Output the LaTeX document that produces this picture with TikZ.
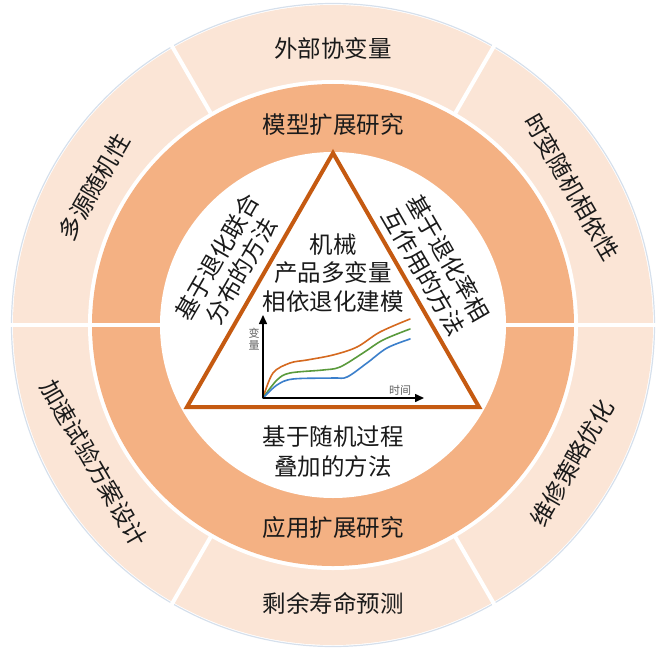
\documentclass[tikz,border=0pt]{standalone}
\usepackage{fontspec}
\newfontfamily\cjk{Noto Sans CJK SC}
\usetikzlibrary{arrows.meta}
\definecolor{outerc}{HTML}{FBE5D6}
\definecolor{midc}{HTML}{F4B183}
\definecolor{triC}{HTML}{C55A11}
\definecolor{curO}{HTML}{D5691F}
\definecolor{curG}{HTML}{5A9A3C}
\definecolor{curB}{HTML}{3B7FCB}
\definecolor{rimc}{HTML}{D6E0EC}
\definecolor{txt}{HTML}{1A1A1A}
\definecolor{axlab}{HTML}{606060}
\begin{document}
\begin{tikzpicture}[x=1pt,y=1pt,
  lbl/.style={font=\cjk\fontsize{23.5}{29}\selectfont, text=txt, align=center, inner sep=0pt},
  small/.style={font=\cjk\fontsize{11}{12.5}\selectfont, text=axlab, inner sep=0pt, align=center},
  sepline/.style={white, line width=4pt},
  curve/.style={line width=1.6pt, line cap=round},
  axis/.style={black, line width=1.5pt, -{Triangle[length=9pt,width=8pt]}}
]
\useasboundingbox (-333,-326) rectangle (327,325);
% rings
\fill[outerc] (0,0) circle (320);
\draw[rimc, line width=1.2pt] (0,0) circle (321.5);
\fill[white] (0,0) circle (245);
\fill[midc] (0,0) circle (241);
\fill[white] (0,0) circle (173);
% separators
\foreach \a in {60,120,240,300} \draw[sepline] (\a:243) -- (\a:323);
\draw[sepline] (173,0) -- (323,0);
\draw[sepline] (-173,0) -- (-323,0);
% outer ring labels
\node[lbl] (o1) at (0,277) {外部协变量};
\node[lbl, rotate=-60] (o2) at (30:276) {时变随机相依性};
\node[lbl, rotate=60] (o3) at (-30:276) {维修策略优化};
\node[lbl] (o4) at (0,-278) {剩余寿命预测};
\node[lbl, rotate=-60] (o5) at (210:276) {加速试验方案设计};
\node[lbl, rotate=60] (o6) at (150:276) {多源随机性};
% middle ring labels
\node[lbl] (m1) at (0,200) {模型扩展研究};
\node[lbl] (m2) at (0,-203) {应用扩展研究};
% triangle
\coordinate (tA) at (0,172);
\coordinate (tB) at (-146,-82);
\coordinate (tC) at (146,-82);
\draw[triC, line width=4pt, line join=miter] (tA) -- (tB) -- (tC) -- cycle;
% inner texts
\node[lbl, font=\cjk\fontsize{23.5}{28.5}\selectfont] (core) at (0,52) {机械\\产品多变量\\相依退化建模};
\node[lbl, rotate=60, font=\cjk\fontsize{23.5}{28}\selectfont] (mL) at (-104,61) {基于退化联合\\分布的方法};
\node[lbl, rotate=-60, font=\cjk\fontsize{23.5}{28}\selectfont] (mR) at (103,60) {基于退化率相\\互作用的方法};
\node[lbl, font=\cjk\fontsize{23.5}{30}\selectfont] (mB) at (0,-127) {基于随机过程\\叠加的方法};
% chart
\coordinate (org) at (-70,-73);
\coordinate (ytip) at (-70,10);
\coordinate (xtip) at (91,-73);
\draw[curO, curve] plot[smooth, tension=0.55] coordinates {(-70,-73) (-60,-48) (-43,-38) (-26,-35) (0,-30) (24,-22) (47,-7) (77,6)};
\draw[curG, curve] plot[smooth, tension=0.55] coordinates {(-70,-73) (-56,-55) (-43,-48) (-10,-45) (7,-42) (30,-28) (50,-15) (77,-4)};
\draw[curB, curve] plot[smooth, tension=0.55] coordinates {(-70,-73) (-56,-60) (-40,-54) (0,-53) (14,-52) (34,-38) (54,-23) (77,-14)};
\draw[axis] (org) -- (ytip);
\draw[axis] (org) -- (xtip);
\node[small] (ylab) at (-79,-14) {变\\量};
\node[small] (xlab) at (67,-65) {时间};
\end{tikzpicture}
\end{document}
